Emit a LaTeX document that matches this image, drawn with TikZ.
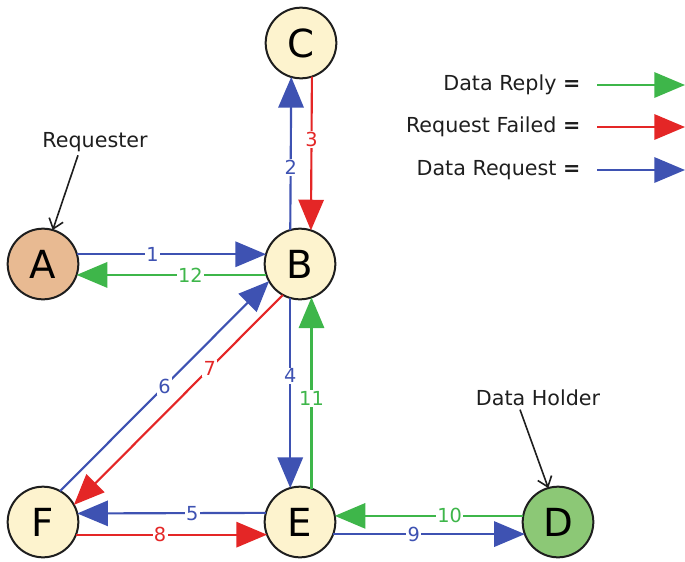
\documentclass[tikz,border=0pt]{standalone}
\usepackage{fontspec}
\setmainfont{DejaVu Sans}
\usetikzlibrary{arrows.meta,calc}
\definecolor{eblue}{RGB}{62,82,178}
\definecolor{ered}{RGB}{228,38,38}
\definecolor{egreen}{RGB}{62,182,74}
\definecolor{cream}{RGB}{253,243,206}
\definecolor{tanfill}{RGB}{232,186,146}
\definecolor{dgreen}{RGB}{140,200,118}
\definecolor{ink}{RGB}{30,30,30}
\begin{document}
\begin{tikzpicture}[x=0.75pt,y=-0.75pt,
  state/.style={circle, draw=ink, line width=1.5pt, minimum size=53pt, inner sep=0pt, outer sep=0pt, font=\fontsize{29}{29}\selectfont, text=black},
  edge/.style={line width=1.6pt, -{Triangle[length=23pt,width=19pt]}},
  req/.style={edge, eblue},
  fail/.style={edge, ered},
  rep/.style={edge, egreen},
  lab/.style={fill=white, inner sep=1pt, font=\fontsize{14.5}{15}\selectfont},
  txt/.style={inner sep=1pt, text=ink, font=\fontsize{15.5}{17}\selectfont},
  pointer/.style={draw=ink, line width=1.2pt, -{Straight Barb[length=7pt,width=11pt]}}
]
\useasboundingbox (0,0) rectangle (685,561);

\node[state, fill=tanfill] (A) at (43,264) {A};
\node[state, fill=cream] (B) at (300,264) {B};
\node[state, fill=cream] (C) at (301,43) {C};
\node[state, fill=cream] (E) at (300,522) {E};
\node[state, fill=cream] (F) at (43,522) {F};
\node[state, fill=dgreen] (D) at (558,522) {D};

\draw[req] (A.16) -- node[lab,pos=0.40]{1} (B.164);
\draw[rep] (B.198) -- node[lab,pos=0.40]{12} (A.-18);
\draw[req] (B.106) -- node[lab,pos=0.41]{2} (C.254);
\draw[fail] (C.-72) -- node[lab,pos=0.41]{3} (B.72);
\draw[req] (B.254) -- node[lab,pos=0.41]{4} (E.106);
\draw[rep] (E.71) -- node[lab,pos=0.47]{11} (B.-71);
\draw[req] (E.165.5) -- node[lab,pos=0.39]{5} (F.14.5);
\draw[fail] (F.-21) -- node[lab,pos=0.44]{8} (E.201);
\draw[req] (F.61) -- node[lab,pos=0.5]{6} (B.209);
\draw[fail] (B.241) -- node[lab,pos=0.35]{7} (F.29);
\draw[rep] (D.170) -- node[lab,pos=0.39]{10} (E.10);
\draw[req] (E.-20) -- node[lab,pos=0.42]{9} (D.200);

\node[txt] (rq) at (95,142) {Requester};
\draw[pointer] ($(rq.south)+(-17,2)$) -- (A.74);
\node[txt] (dh) at (538,398) {Data Holder};
\draw[pointer] ($(dh.south)+(-18,2)$) -- (D.106);

\node[txt, anchor=east] (l1) at (582,85) {Data Reply {\bfseries =}};
\node[txt, anchor=east] (l2) at (582,127) {Request Failed {\bfseries =}};
\node[txt, anchor=east] (l3) at (582,170) {Data Request {\bfseries =}};
\coordinate (e1) at (685,85);
\coordinate (e2) at (685,127);
\coordinate (e3) at (685,170);
\draw[rep] ($(l1.east)+(15,0)$) -- (e1);
\draw[fail] ($(l2.east)+(15,0)$) -- (e2);
\draw[req] ($(l3.east)+(15,0)$) -- (e3);
\end{tikzpicture}
\end{document}
